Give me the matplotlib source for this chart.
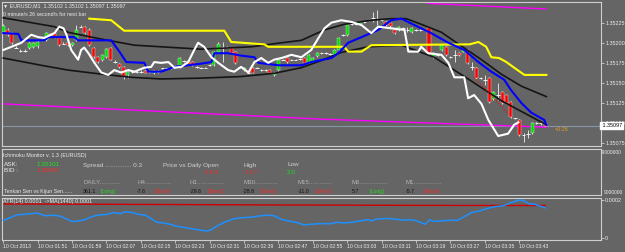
import matplotlib.pyplot as plt
import matplotlib.transforms as mtransforms
import numpy as np

plt.rcParams['font.family'] = ['Liberation Sans', 'DejaVu Sans']

# prices are stored as points above 1.35000 (1 point = 0.00001)
base = 1.35

# candles, one per M1 bar (bar 0 = 01:43)
c_open = [213, 216, 212, 194, 190, 190, 193, 195, 196, 203, 203, 208, 212, 206, 199, 200, 197, 203, 220, 220,
          216, 194, 182, 178, 182, 194, 176, 174, 170, 160, 164, 164, 164, 165, 164, 162, 164, 168, 168, 168,
          170, 170, 177, 177, 176, 170, 169, 169, 172, 172, 188, 195, 195, 194, 189, 170, 166, 163, 169, 169,
          166, 166, 166, 160, 166, 179, 181, 179, 179, 180, 181, 175, 176, 183, 187, 187, 186, 185, 191, 210,
          210, 223, 223, 223, 226, 228, 231, 230, 228, 226, 224, 216, 216, 218, 216, 213, 216, 216, 216, 218,
          182, 185, 191, 195, 182, 185, 187, 189, 191, 170, 169, 156, 154, 156, 130, 135, 139, 135, 126, 106,
          104, 85, 86, 88, 100, 100, 100]
c_high = [223, 218, 213, 196, 192, 192, 201, 201, 203, 205, 213, 212, 213, 207, 201, 201, 201, 222, 222, 221,
          218, 195, 183, 186, 193, 195, 178, 175, 171, 165, 166, 166, 166, 166, 165, 166, 166, 169, 169, 170,
          172, 182, 178, 178, 177, 171, 170, 170, 173, 190, 201, 201, 196, 195, 190, 171, 170, 164, 170, 170,
          167, 167, 167, 164, 180, 180, 182, 180, 180, 181, 182, 186, 182, 188, 188, 188, 187, 192, 207, 211,
          223, 224, 224, 227, 227, 229, 238, 241, 229, 227, 225, 217, 221, 219, 220, 219, 217, 217, 217, 219,
          188, 186, 198, 196, 183, 191, 188, 192, 192, 176, 170, 157, 160, 157, 140, 150, 140, 136, 127, 107,
          105, 88, 92, 101, 101, 101, 101]
c_low = [212, 209, 199, 193, 189, 189, 192, 194, 194, 202, 202, 207, 206, 196, 198, 196, 196, 202, 219, 211,
         196, 181, 175, 177, 181, 178, 175, 169, 155, 156, 163, 163, 163, 162, 163, 161, 163, 167, 167, 167,
         169, 169, 176, 172, 171, 169, 168, 168, 171, 171, 187, 176, 194, 186, 174, 169, 165, 162, 162, 168,
         165, 165, 162, 159, 165, 178, 175, 178, 178, 179, 174, 174, 175, 182, 186, 186, 185, 184, 190, 209,
         209, 222, 222, 222, 225, 227, 226, 222, 227, 221, 220, 211, 215, 217, 213, 212, 215, 215, 215, 186,
         181, 184, 190, 184, 181, 176, 184, 188, 174, 166, 155, 155, 147, 125, 129, 129, 124, 124, 107, 105,
         84, 77, 82, 87, 99, 98, 96]
c_close = [221, 210, 200, 194, 190, 190, 200, 200, 201, 203, 212, 211, 207, 197, 199, 197, 200, 216, 220, 212,
           197, 182, 176, 185, 192, 179, 176, 170, 157, 164, 164, 164, 164, 163, 164, 165, 164, 168, 168, 168,
           170, 181, 177, 173, 172, 170, 169, 169, 172, 189, 198, 195, 195, 187, 175, 170, 169, 163, 163, 169,
           166, 166, 163, 163, 179, 179, 176, 179, 179, 180, 175, 185, 181, 187, 187, 187, 186, 191, 206, 210,
           222, 223, 223, 226, 226, 228, 231, 230, 228, 222, 221, 212, 220, 218, 216, 218, 216, 216, 216, 187,
           187, 185, 197, 185, 182, 185, 185, 191, 175, 170, 156, 156, 154, 126, 139, 135, 125, 125, 108, 106,
           85, 85, 86, 100, 100, 100, 97]

# indicator lines: bar position / points
yellow_x = [20, 25.1, 28.1, 51.4, 53, 60.7, 61.6, 79.3, 80.2, 83.3, 85.6, 108.4, 110.5, 112.3, 113.5, 115.3,
            117, 118.8, 121.2, 126.3]
yellow_y = [230, 228, 215, 215, 201, 198, 195, 195, 189, 189, 197, 198, 201, 195, 182, 181, 176, 169, 160, 160]

blue_x = [0, 3.5, 4.2, 9.5, 10.5, 16.5, 17.4, 25.1, 27, 28.6, 32.8, 33.7, 36.7, 39.8, 46, 48.4, 49.1, 52.3,
          55.3, 58.4, 59.3, 64, 69.3, 71.6, 76.3, 77.9, 80.2, 83.3, 87.2, 90.2, 92.6, 95.6, 99.5, 103.5, 107.2,
          110.5, 113.5, 116.5, 118.1, 120.5, 122.8, 125.8, 126.3]
blue_y = [212, 211, 203, 203, 207, 207, 203, 203, 189, 176, 175, 164, 164, 170, 174, 176, 187, 187, 184, 182,
          175, 172, 172, 176, 181, 187, 200, 207, 216, 228, 230, 222, 212, 200, 191, 176, 164, 154, 141, 125,
          113, 104, 98]

upper_x = [0, 6.5, 11.9, 15.1, 20.5, 24.4, 30.5, 36.7, 46, 57.7, 64.7, 69.3, 74.7, 79.3, 85.6, 90.2, 93.7,
           97.2, 101.9, 106.5, 111.2, 115.8, 120.5, 126.3]
upper_y = [231, 225, 220, 213, 207, 203, 197, 195, 192, 195, 200, 203, 216, 223, 228, 230, 230, 223, 213, 196,
           179, 161, 146, 133]

lower_x = [0, 8.8, 15.1, 22.8, 29.8, 36.7, 46, 55.3, 63, 69.3, 74, 78.6, 84.9, 92.6, 100.2, 108.1, 115.8,
           123.5, 126.3]
lower_y = [181, 172, 166, 161, 157, 155, 156, 158, 162, 169, 178, 188, 195, 197, 182, 155, 128, 106, 98]

white_x = [0, 1.9, 4.2, 6.5, 8.1, 9.5, 11.9, 13, 14, 14.7, 15.8, 17.4, 18.1, 18.8, 19.8, 21.2, 22.8, 24.4,
           25.8, 27.4, 29.1, 30.5, 32.8, 34.4, 35.1, 36.7, 38.4, 39.8, 41.4, 43, 44.4, 45.3, 46.7, 48.4, 50,
           52.3, 53.7, 55.3, 57, 58.4, 60, 61.6, 63, 64.7, 67, 69.3, 71.6, 73.3, 74.7, 76.3, 78.6, 80.9, 83.3,
           85.6, 87.2, 90.2, 93.3, 94.2, 96.5, 97.2, 98.8, 101.9, 103.5, 104.9, 107.2, 108.1, 109.5, 111.2,
           112.8, 115.1, 117.4, 118.8, 119.8]
white_y = [191, 195, 200, 210, 207, 206, 212, 220, 218, 210, 191, 179, 191, 194, 187, 175, 163, 160, 166, 163,
           166, 164, 169, 170, 176, 175, 176, 169, 170, 176, 191, 200, 195, 182, 175, 166, 164, 170, 163, 176,
           181, 175, 179, 181, 185, 182, 191, 206, 218, 225, 228, 226, 222, 212, 220, 218, 216, 189, 189, 195,
           187, 185, 175, 157, 157, 131, 135, 124, 104, 84, 87, 98, 101]

magenta_x = [0, 74, 126.3]
magenta_y = [124, 105, 95]
magenta_top_x = [98.8, 126.3]
magenta_top_y = [249, 242]
trend_x = [109.5, 117.4]
trend_y = [157, 112]

bid = 97
price_ticks = [75, 100, 125, 150, 175, 200, 225]

# ATR(14) and its MA, in units of 0.0001 (window is scaled to its own min / max)
atr_x = [0, 1.4, 3.2, 5.1, 7.9, 8.8, 9.7, 11.6, 13.4, 14.4, 15.7, 16.7, 18.1, 19, 20.4, 21.8, 24.1, 25.5,
         27.3, 28.3, 30.1, 31.5, 32.9, 34.3, 35.7, 37.5, 39.4, 40.3, 42.2, 44, 45.9, 47.3, 48.2, 49.6, 51.4,
         53.3, 55.1, 57.9, 59.8, 61.6, 63, 64.4, 66.3, 68.1, 70, 71.8, 73.7, 76.4, 77.4, 79.2, 81.1, 82.9,
         84.8, 85.7, 86.6, 89.4, 91.3, 93.1, 94, 95.9, 97.7, 98.2, 99.1, 100.1, 101.5, 104.2, 105.6, 107,
         108.9, 110.7, 112.6, 114.4, 116.3, 118.1, 120, 120.9, 122.3, 123.7, 125.1, 126]
atr_v = [1.214, 1.307, 1.431, 1.462, 1.503, 1.451, 1.399, 1.420, 1.378, 1.295, 1.192, 1.171, 1.212, 1.244,
         1.347, 1.420, 1.451, 1.523, 1.482, 1.554, 1.523, 1.451, 1.430, 1.295, 1.140, 1.109, 1.036, 0.984,
         0.933, 0.881, 0.829, 0.798, 0.829, 0.984, 1.140, 1.264, 1.316, 1.347, 1.399, 1.420, 1.399, 1.275,
         1.192, 1.140, 1.036, 1.067, 1.088, 1.088, 1.140, 1.119, 1.140, 1.192, 1.244, 1.192, 1.264, 1.295,
         1.264, 1.223, 1.244, 1.212, 1.088, 1.067, 1.244, 1.171, 1.192, 1.223, 1.212, 1.347, 1.523, 1.585,
         1.689, 1.762, 1.793, 1.917, 2.021, 2.000, 1.865, 1.845, 1.762, 1.710]
ma_x = [0, 18, 42, 56, 76, 97, 126]
ma_v = [1.865, 1.855, 1.840, 1.829, 1.818, 1.808, 1.803]
atr_ticks = [0.52, 2.02]
atr_labels = ['0', '0.0002']

time_ticks = list(range(0, 121, 8))
time_labels = ['10 Oct 2013', '10 Oct 01:51', '10 Oct 01:59', '10 Oct 02:07', '10 Oct 02:15', '10 Oct 02:23',
               '10 Oct 02:31', '10 Oct 02:39', '10 Oct 02:47', '10 Oct 02:55', '10 Oct 03:03', '10 Oct 03:11',
               '10 Oct 03:19', '10 Oct 03:27', '10 Oct 03:35', '10 Oct 03:43']

tf_names = ['DAILY............', 'H4...............', 'H1................', 'M30.............',
            'M15.............', 'M5................', 'M1................']
tk_values = ['361.1', '-7.6', '-29.6', '-28.8', '-11.0', '5.7', '-5.7']
tk_signal = ['[Long]', '[Short]', '[Short]', '[Short]', '[Short]', '[Long]', '[Short]']
tf_col = [83, 137, 190, 243, 298, 352, 406]

# ---------------------------------------------------------------
def p(v):
    return base + np.asarray(v, dtype=float) / 1e5

W, H = 625, 252
bg = '#656565'
frame = '#cfcfcf'
txt = '#ececec'
green = '#1ee01e'
red = '#ff2a2a'
lab = 3.9   # axis label size

fig = plt.figure(figsize=(W / 100, H / 100), dpi=100, facecolor=bg)

def rect(top, bottom):
    return [2 / W, 1 - bottom / H, 599 / W, (bottom - top) / H]

def ftext(x, y, s, color=txt, size=4.3, **kw):
    fig.text(x / W, 1 - y / H, s, color=color, fontsize=size, va='center', ha='left', **kw)

def frame_axes(a):
    for s in a.spines.values():
        s.set_color(frame)
        s.set_linewidth(0.8)

xlim = (-0.3, 139.0)

# --- main price panel
ax = fig.add_axes(rect(2, 146), facecolor=bg)
ax.set_xlim(*xlim)
ax.set_ylim(p(71.6), p(250.7))

ax.axhline(p(bid), color='#8796a6', lw=0.8, zorder=1)
ax.plot(magenta_x, p(magenta_y), color='#ff00ff', lw=1.0, zorder=2)
ax.plot(magenta_top_x, p(magenta_top_y), color='#ff00ff', lw=1.0, zorder=2)

o, h, l, c = (np.array(a) for a in (c_open, c_high, c_low, c_close))
xs = np.arange(len(o))
ax.vlines(xs, p(l), p(h), color='#f0f0f0', lw=0.6, zorder=3)
up = c > o
dn = c < o
ax.bar(xs[up], (c - o)[up] / 1e5, bottom=p(o[up]), width=0.7, color='#00e000', edgecolor='#e0e0e0',
       lw=0.3, zorder=4)
ax.bar(xs[dn], (o - c)[dn] / 1e5, bottom=p(c[dn]), width=0.7, color='#ff0000', edgecolor='#e0e0e0',
       lw=0.3, zorder=4)
doji = c == o
ax.hlines(p(c[doji]), xs[doji] - 0.4, xs[doji] + 0.4, color='#f0f0f0', lw=0.7, zorder=4)

ax.plot(upper_x, p(upper_y), color='#151515', lw=1.2, zorder=5)
ax.plot(lower_x, p(lower_y), color='#151515', lw=1.2, zorder=5)
ax.plot(yellow_x, p(yellow_y), color='#ffff00', lw=1.5, zorder=5)
ax.plot(blue_x, p(blue_y), color='#0000ff', lw=1.5, zorder=6)
ax.plot(white_x, p(white_y), color='#ffffff', lw=1.5, zorder=6)
ax.plot(trend_x, p(trend_y), color='#ff0000', lw=0.8, ls=':', zorder=6)

ax.text(128.2, p(92), '<0:26', color='#e8a010', fontsize=lab, va='center', ha='left', zorder=7)

ax.yaxis.tick_right()
ax.set_yticks(p(price_ticks))
ax.set_yticklabels(['%.5f' % v for v in p(price_ticks)])
ax.tick_params(axis='y', length=2, width=0.6, color=frame, labelsize=lab, labelcolor=txt, pad=1.0)
ax.set_xticks([])
frame_axes(ax)

# current bid box on the price scale
trans = mtransforms.blended_transform_factory(ax.transAxes, ax.transData)
ax.text(1.0, p(bid), ' 1.35097', transform=trans, color='black', fontsize=lab, va='center', ha='left',
        bbox=dict(boxstyle='square,pad=0.2', fc='white', ec='white'), zorder=10, clip_on=False)

ftext(3, 6, '\u25bc EURUSD,M1  1.35102 1.35102 1.35097 1.35097', size=3.8)
ftext(3, 14, '0 minute/s 26 second/s for next bar', size=3.8)

# --- Ichimoku monitor panel (text only)
ax2 = fig.add_axes(rect(149, 195), facecolor=bg)
ax2.set_xlim(*xlim)
ax2.set_xticks([])
ax2.set_yticks([])
frame_axes(ax2)

ftext(3, 155, 'Ichimoku Monitor v. 1.3 (EURUSD)', size=3.9)
ftext(4, 164.5, 'ASK:', size=4.6)
ftext(4, 171, 'BID :', size=4.6)
ftext(36, 164.5, '1.35101', color=green, size=4.6)
ftext(36, 171, '1.35097', color=red, size=4.6)
ftext(83, 165, 'Spread ............... 0.3', color='#d0d0d0', size=4.6)
ftext(163, 165, 'Price vs Daily Open', color='#d0d0d0', size=4.6)
ftext(204, 172, '-14.5', color=red, size=4.6)
ftext(243, 165, 'High', color='#d0d0d0', size=4.6)
ftext(244, 172, '-17.7', color=red, size=4.6)
ftext(288, 165, 'Low', color='#d0d0d0', size=4.6)
ftext(287, 172, '2.0', color=green, size=4.6)
ftext(4, 191.5, 'Tenkan Sen vs Kijun Sen......', size=3.8)
for x0, name, val, sig in zip(tf_col, tf_names, tk_values, tk_signal):
    ftext(x0, 183, name, color='#b4b4b4', size=4.4)
    ftext(x0, 191.5, val, color='#111111', size=3.8)
    ftext(x0 + 18, 191.5, sig, color=green if sig == '[Long]' else red, size=3.8)
ftext(601, 153, '-9000000', size=3.5)
ftext(603.5, 192, '9000000', size=3.5)

# --- ATR panel
ax3 = fig.add_axes(rect(198, 240), facecolor=bg)
ax3.set_xlim(*xlim)
ax3.set_ylim(0.442, 2.099)
ax3.plot(ma_x, ma_v, color='#d00000', lw=1.0, zorder=2)
ax3.plot(atr_x, atr_v, color='#1e90ff', lw=1.1, zorder=3)
ax3.yaxis.tick_right()
ax3.set_yticks(atr_ticks)
ax3.set_yticklabels(atr_labels)
ax3.tick_params(axis='y', length=2, width=0.6, color=frame, labelsize=lab, labelcolor=txt, pad=1.0)
ax3.set_xticks(time_ticks)
ax3.set_xticklabels(time_labels, ha='left')
ax3.tick_params(axis='x', length=2, width=0.6, color=frame, labelsize=3.7, labelcolor=txt, pad=1.0)
frame_axes(ax3)
ftext(3, 201, 'ATR(14) 0.0001  ->MA(1440) 0.0001', size=3.9)

fig.savefig('out.png', dpi=100, facecolor=bg)
